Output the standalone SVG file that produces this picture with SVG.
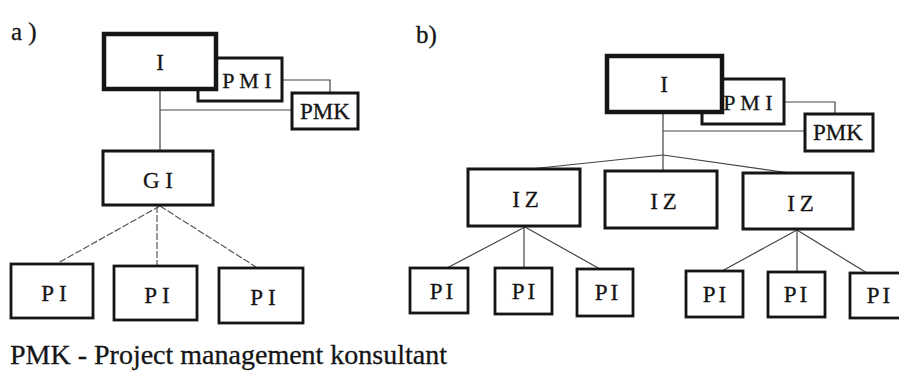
<svg xmlns="http://www.w3.org/2000/svg" width="899" height="371" viewBox="0 0 899 371">
<style>
.bx{fill:#fff;stroke:#151515;stroke-width:3}
.thick{stroke-width:4.5}
.pi{stroke-width:2.8}
.t{font-family:"Liberation Serif","Times New Roman",serif;fill:#151515;stroke:#151515;stroke-width:0.3;text-anchor:middle}
.lb{font-family:"Liberation Serif","Times New Roman",serif;fill:#151515;stroke:#151515;stroke-width:0.3}
.ln{fill:none;stroke:#444;stroke-width:1.2}
.dl{fill:none;stroke:#555;stroke-width:1.2;stroke-dasharray:7 2}
</style>
<rect width="899" height="371" fill="#fff"/>
<text class="lb" x="11" y="40" font-size="25">a )</text>
<text class="lb" x="416" y="43" font-size="25">b)</text>
<g id="connectors">
<line class="ln" x1="160" y1="89" x2="160" y2="151"/>
<line class="ln" x1="160" y1="110" x2="292" y2="110"/>
<polyline class="ln" points="282,80 330,80 330,93"/>
<line class="dl" x1="160" y1="206" x2="58" y2="263"/>
<line class="dl" x1="157" y1="206" x2="157" y2="265"/>
<line class="dl" x1="160" y1="206" x2="256" y2="267"/>
<line class="ln" x1="663" y1="112" x2="663" y2="171"/>
<line class="ln" x1="663" y1="131" x2="805" y2="131"/>
<polyline class="ln" points="784,102 835,102 835,114"/>
<line class="ln" x1="663" y1="155" x2="530" y2="169"/>
<line class="ln" x1="663" y1="155" x2="790" y2="173"/>
<line class="ln" x1="525" y1="227" x2="447" y2="268"/>
<line class="ln" x1="524" y1="227" x2="524" y2="268"/>
<line class="ln" x1="525" y1="227" x2="600" y2="269"/>
<line class="ln" x1="797" y1="230" x2="722" y2="271"/>
<line class="ln" x1="797" y1="230" x2="797" y2="272"/>
<line class="ln" x1="797" y1="230" x2="867" y2="273"/>
</g>
<g id="a-PMI"><rect class="bx" x="198" y="58" width="84" height="43"/><text class="t" x="247" y="88" font-size="22">P M I</text></g>
<g id="a-I"><rect class="bx thick" x="104" y="34" width="112" height="55"/><text class="t" x="160" y="70" font-size="23">I</text></g>
<g id="a-PMK"><rect class="bx" x="292" y="93" width="66" height="36"/><text class="t" x="325" y="119" font-size="23">PMK</text></g>
<g id="a-GI"><rect class="bx" x="103" y="151" width="110" height="54"/><text class="t" x="158" y="188" font-size="23">G I</text></g>
<g id="a-PI1"><rect class="bx pi" x="11" y="264" width="82" height="54"/><text class="t" x="54" y="301" font-size="23">P I</text></g>
<g id="a-PI2"><rect class="bx pi" x="114" y="266" width="83" height="54"/><text class="t" x="157" y="303" font-size="23">P I</text></g>
<g id="a-PI3"><rect class="bx pi" x="219" y="268" width="84" height="55"/><text class="t" x="263" y="305" font-size="23">P I</text></g>
<g id="b-PMI"><rect class="bx" x="702" y="79" width="82" height="45"/><text class="t" x="748" y="110" font-size="22">P M I</text></g>
<g id="b-I"><rect class="bx thick" x="607" y="56" width="115" height="56"/><text class="t" x="664" y="92" font-size="23">I</text></g>
<g id="b-PMK"><rect class="bx" x="805" y="114" width="68" height="37"/><text class="t" x="838" y="140" font-size="23">PMK</text></g>
<g id="b-IZ1"><rect class="bx" x="468" y="169" width="112" height="57"/><text class="t" x="528" y="207" font-size="23" letter-spacing="5">IZ</text></g>
<g id="b-IZ2"><rect class="bx" x="605" y="171" width="112" height="57"/><text class="t" x="666" y="209" font-size="23" letter-spacing="5">IZ</text></g>
<g id="b-IZ3"><rect class="bx" x="743" y="173" width="110" height="56"/><text class="t" x="803" y="211" font-size="23" letter-spacing="5">IZ</text></g>
<g id="b-PI1"><rect class="bx pi" x="410" y="268" width="58" height="45"/><text class="t" x="443" y="299" font-size="23" letter-spacing="3">PI</text></g>
<g id="b-PI2"><rect class="bx pi" x="495" y="268" width="57" height="46"/><text class="t" x="525" y="299" font-size="23" letter-spacing="3">PI</text></g>
<g id="b-PI3"><rect class="bx pi" x="577" y="269" width="56" height="47"/><text class="t" x="608" y="300" font-size="23" letter-spacing="3">PI</text></g>
<g id="b-PI4"><rect class="bx pi" x="686" y="271" width="57" height="46"/><text class="t" x="716" y="302" font-size="23" letter-spacing="3">PI</text></g>
<g id="b-PI5"><rect class="bx pi" x="768" y="272" width="57" height="45"/><text class="t" x="797" y="302" font-size="23" letter-spacing="3">PI</text></g>
<g id="b-PI6"><rect class="bx pi" x="850" y="273" width="58" height="45"/><text class="t" x="880" y="303" font-size="23" letter-spacing="3">PI</text></g>
<text class="lb" x="10" y="364" font-size="28">PMK - Project management konsultant</text>
</svg>
